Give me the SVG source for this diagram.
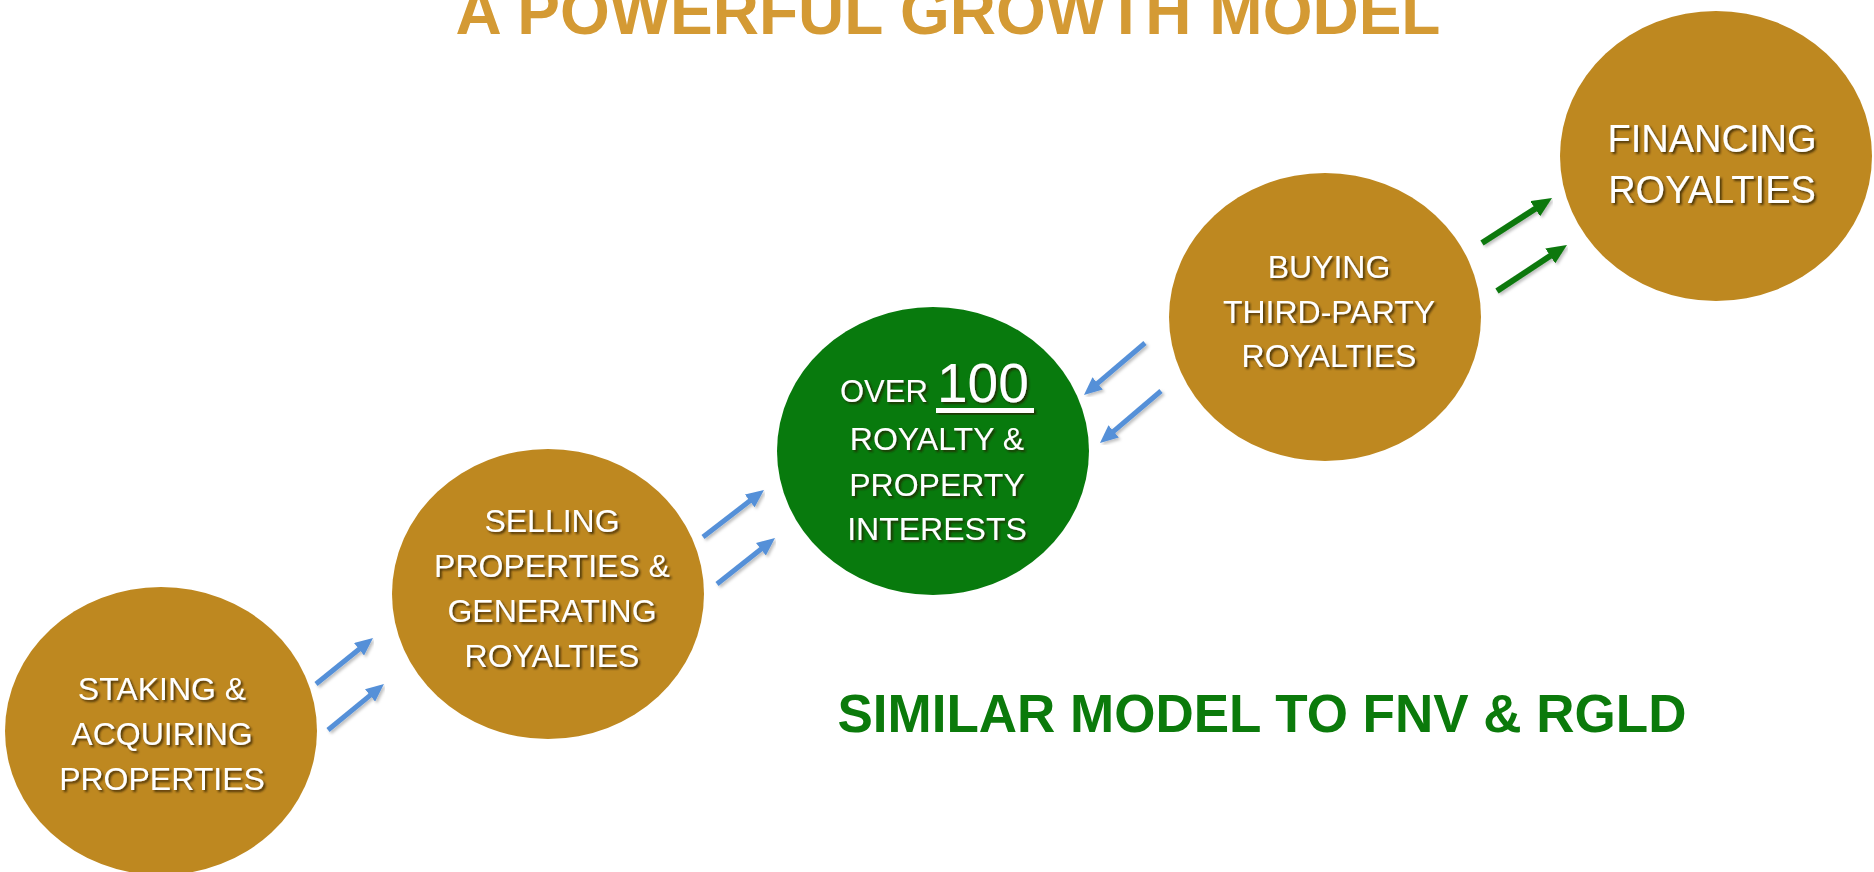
<svg xmlns="http://www.w3.org/2000/svg" width="1874" height="872" viewBox="0 0 1874 872">
<defs>
<style>
.gold{fill:#BE8820}
.green{fill:#087A0D}
.lbl{font-family:"Liberation Sans",Arial,sans-serif;fill:#FFFFFF;text-anchor:middle;font-size:32px;filter:url(#ts)}
.blue{stroke:#5590D8;stroke-width:5;fill:none;marker-end:url(#hb);filter:url(#as)}
.garr{stroke:#0A780C;stroke-width:6;fill:none;marker-end:url(#hg);filter:url(#as)}
.title{font-family:"Liberation Sans",Arial,sans-serif;font-weight:bold;font-size:64px;fill:#D49A34;text-anchor:middle}
.sub{font-family:"Liberation Sans",Arial,sans-serif;font-weight:bold;font-size:53px;fill:#0B7A0B;text-anchor:middle}
</style>
<filter id="ts" x="-10%" y="-30%" width="120%" height="160%">
<feDropShadow dx="2" dy="2" stdDeviation="1.2" flood-color="#2a1d00" flood-opacity="0.75"/>
</filter>
<filter id="as" x="-20%" y="-20%" width="140%" height="140%">
<feDropShadow dx="2" dy="2" stdDeviation="1.5" flood-color="#000" flood-opacity="0.25"/>
</filter>
<marker id="hb" markerUnits="userSpaceOnUse" markerWidth="18" markerHeight="16" viewBox="0 0 18 16" refX="6" refY="8" orient="auto">
<path d="M0,0 L18,8 L0,16 z" fill="#5590D8"/>
</marker>
<marker id="hg" markerUnits="userSpaceOnUse" markerWidth="20" markerHeight="18" viewBox="0 0 20 18" refX="7" refY="9" orient="auto">
<path d="M0,0 L20,9 L0,18 z" fill="#0A780C"/>
</marker>
</defs>
<rect width="1874" height="872" fill="#FFFFFF"/>
<text class="title" x="948" y="34">A POWERFUL GROWTH MODEL</text>
<g id="connectors">
<line class="blue" x1="316" y1="684" x2="363.7" y2="645.5"/>
<line class="blue" x1="328" y1="730" x2="374.7" y2="691.6"/>
<line class="blue" x1="703" y1="537" x2="754.5" y2="497.3"/>
<line class="blue" x1="717" y1="584" x2="765.6" y2="545.5"/>
<line class="blue" x1="1145" y1="343" x2="1093.1" y2="387.2"/>
<line class="blue" x1="1161" y1="391" x2="1109.1" y2="435.2"/>
<line class="garr" x1="1482" y1="243" x2="1541.1" y2="205"/>
<line class="garr" x1="1497" y1="291" x2="1556.1" y2="252.1"/>
</g>
<g id="node-staking">
<ellipse class="gold" cx="161" cy="731" rx="156" ry="144"/>
<text class="lbl" x="162" y="700">STAKING &amp;</text>
<text class="lbl" x="162" y="745">ACQUIRING</text>
<text class="lbl" x="162" y="790">PROPERTIES</text>
</g>
<g id="node-selling">
<ellipse class="gold" cx="548" cy="594" rx="156" ry="145"/>
<text class="lbl" x="552" y="532">SELLING</text>
<text class="lbl" x="552" y="577">PROPERTIES &amp;</text>
<text class="lbl" x="552" y="622">GENERATING</text>
<text class="lbl" x="552" y="667">ROYALTIES</text>
</g>
<g id="node-interests">
<ellipse class="green" cx="933" cy="451" rx="156" ry="144"/>
<text class="lbl" x="840" y="402" style="text-anchor:start;font-size:31px">OVER</text>
<text class="lbl" x="937" y="402" style="text-anchor:start;font-size:55px">100</text>
<rect x="936" y="408" width="98" height="5" fill="#FFFFFF" filter="url(#ts)"/>
<text class="lbl" x="937" y="450">ROYALTY &amp;</text>
<text class="lbl" x="937" y="496">PROPERTY</text>
<text class="lbl" x="937" y="540">INTERESTS</text>
</g>
<g id="node-buying">
<ellipse class="gold" cx="1325" cy="317" rx="156" ry="144"/>
<text class="lbl" x="1329" y="278">BUYING</text>
<text class="lbl" x="1329" y="323">THIRD-PARTY</text>
<text class="lbl" x="1329" y="367">ROYALTIES</text>
</g>
<g id="node-financing">
<ellipse class="gold" cx="1716" cy="156" rx="156" ry="145"/>
<text class="lbl" x="1712" y="152" style="font-size:38px">FINANCING</text>
<text class="lbl" x="1712" y="203" style="font-size:38px">ROYALTIES</text>
</g>
<text class="sub" x="1262" y="732">SIMILAR MODEL TO FNV &amp; RGLD</text>
</svg>
